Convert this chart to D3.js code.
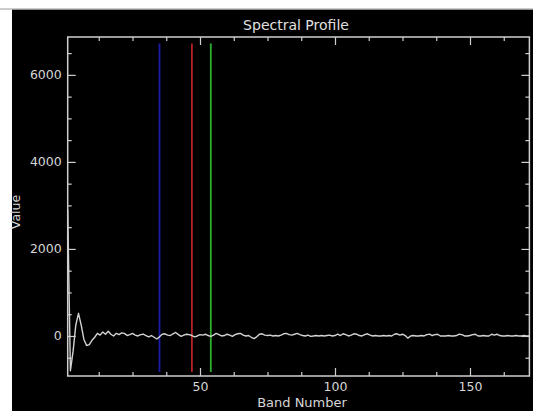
<!DOCTYPE html>
<html>
<head>
<meta charset="utf-8">
<script src="https://cdn.jsdelivr.net/npm/d3@7"></script>
<style>
  body { margin: 0; background: #fff; }
  svg { display: block; }
  .axis text { font-family: "DejaVu Sans", sans-serif; font-size: 12.5px; fill: #d6d6d6; }
  .axis line { stroke: #cfcfcf; stroke-width: 1.2; }
  .axis path { display: none; }
</style>
</head>
<body>
<div id="chart"></div>
<script>
// spectral profile values, one per band (band 1..172)
var values = [
  2900, -800, -350, 250, 520, 250, -80, -220, -200, -100,
  -30, 60, 20, 90, 40, 110, 40, 0, 60, 30,
  70, 60, 10, 30, 60, 20, 0, 30, 40, 10,
  -20, 10, -30, -70, -20, 40, 50, 20, 10, 50,
  80, 30, -10, 20, 40, 30, 10, -20, 0, 30,
  20, 40, 10, -10, 20, 60, 30, 0, 10, 40,
  20, -10, 30, 50, 60, 20, 0, 10, -30, -60,
  -20, 40, 50, 20, 10, 20, 0, 10, 0, 20,
  50, 60, 30, 20, 40, 60, 30, 10, 0, 20,
  -10, 0, 10, 0, 10, 0, 10, 20, 0, 10,
  40, 10, 50, 30, 0, 20, 50, 40, 10, 0,
  30, 50, 20, 0, 10, 0, 0, 10, 0, 10,
  0, 40, 50, 20, 40, 10, -50, 0, 10, 0,
  0, 10, 0, 30, 40, 10, 30, 40, 0, 0,
  0, 10, 0, 0, 10, 40, 30, 0, 0, 10,
  30, 40, 0, 0, 10, 0, 0, 40, 20, 40,
  10, 0, 0, 10, 0, 0, 10, 0, 0, 10,
  0, 0
];
var bands = d3.range(1, values.length + 1);

// band markers (blue, red, green)
var markerBands = [35, 47, 54];
var markerColors = ["#1c1ca8", "#b42222", "#2eb02e"];
var markerRange = [-830, 6720];

var xMajor = [50, 100, 150];
var xMinor = [12.5, 25, 37.5, 62.5, 75, 87.5, 112.5, 125, 137.5, 162.5];
var yMajor = [0, 2000, 4000, 6000];
var yMinor = [-500, 500, 1000, 1500, 2500, 3000, 3500, 4500, 5000, 5500, 6500];

var W = 533, H = 411;
var svg = d3.select("#chart").append("svg").attr("width", W).attr("height", H);

// black panel
svg.append("rect").attr("x", 12).attr("y", 9.5).attr("width", W - 12).attr("height", H - 9.5).attr("fill", "#000");
svg.append("line").attr("x1", 0).attr("x2", W).attr("y1", 9).attr("y2", 9).attr("stroke", "#9a9a9a").attr("stroke-width", 1);

var x = d3.scaleLinear().domain([1, 172]).range([67.7, 529.4]);
var y = d3.scaleLinear().domain([-920, 6870]).range([376, 37]);

// frame
svg.append("rect")
  .attr("x", x(1)).attr("y", y(6870))
  .attr("width", x(172) - x(1)).attr("height", y(-920) - y(6870))
  .attr("fill", "none").attr("stroke", "#cfcfcf").attr("stroke-width", 1.5);

// axes: major + minor, ticks pointing inward
function addAxis(axisFn, tf, vals, size, label) {
  var a = axisFn.tickValues(vals).tickSize(-size).tickPadding(6);
  a.tickFormat(label ? d3.format("d") : "");
  svg.append("g").attr("class", "axis").attr("transform", tf).call(a);
}
addAxis(d3.axisBottom(x), "translate(0," + y(-920) + ")", xMajor, 8, true);
addAxis(d3.axisBottom(x), "translate(0," + y(-920) + ")", xMinor, 4, false);
addAxis(d3.axisTop(x), "translate(0," + y(6870) + ")", xMajor, 8, false);
addAxis(d3.axisTop(x), "translate(0," + y(6870) + ")", xMinor, 4, false);
addAxis(d3.axisLeft(y), "translate(" + x(1) + ",0)", yMajor, 8, true);
addAxis(d3.axisLeft(y), "translate(" + x(1) + ",0)", yMinor, 4, false);
addAxis(d3.axisRight(y), "translate(" + x(172) + ",0)", yMajor, 8, false);
addAxis(d3.axisRight(y), "translate(" + x(172) + ",0)", yMinor, 4, false);

// marker lines
svg.append("g").selectAll("line")
  .data(markerBands)
  .enter().append("line")
  .attr("x1", d => x(d)).attr("x2", d => x(d))
  .attr("y1", y(markerRange[1])).attr("y2", y(markerRange[0]))
  .attr("stroke", (d, i) => markerColors[i])
  .attr("stroke-width", 1.8);

// spectrum
var line = d3.line().x((d, i) => x(bands[i])).y(d => y(d));
svg.append("path")
  .datum(values)
  .attr("d", line)
  .attr("fill", "none")
  .attr("stroke", "#d2d2d2")
  .attr("stroke-width", 1.4)
  .attr("stroke-linejoin", "round");

// titles
svg.append("text")
  .attr("x", 296).attr("y", 30)
  .attr("text-anchor", "middle")
  .style("font-family", "DejaVu Sans, sans-serif").style("font-size", "14px")
  .style("fill", "#e0e0e0")
  .text("Spectral Profile");

svg.append("text")
  .attr("x", 302).attr("y", 407)
  .attr("text-anchor", "middle")
  .style("font-family", "DejaVu Sans, sans-serif").style("font-size", "13px")
  .style("fill", "#d6d6d6")
  .text("Band Number");

svg.append("text")
  .attr("transform", "translate(20,212) rotate(-90)")
  .attr("text-anchor", "middle")
  .style("font-family", "DejaVu Sans, sans-serif").style("font-size", "12.5px")
  .style("fill", "#d6d6d6")
  .text("Value");
</script>
</body>
</html>
